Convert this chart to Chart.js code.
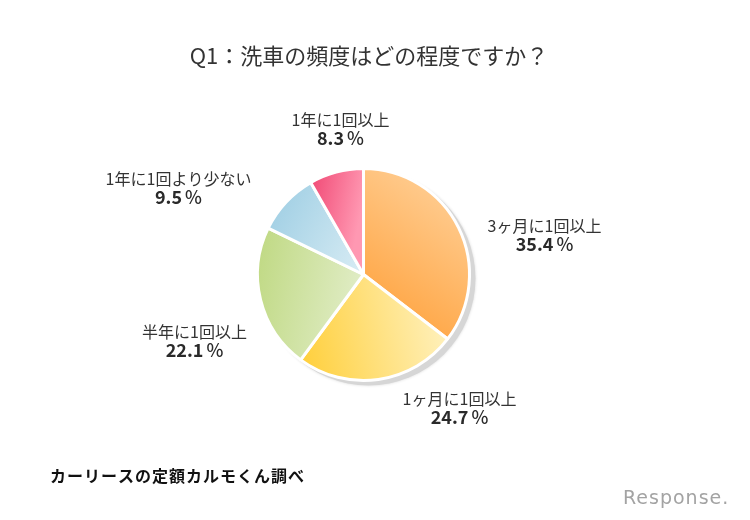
<!DOCTYPE html>
<html><head><meta charset="utf-8">
<script src="https://cdn.jsdelivr.net/npm/chart.js@4.4.1/dist/chart.umd.min.js"></script>
<style>html,body{margin:0;padding:0;background:#fff}#wrap{position:relative;width:750px;height:520px}</style>
</head><body><div id="wrap"><canvas id="c" width="750" height="520"></canvas></div>
<script>
// ---- data ----
const TITLE = "Q1：洗車の頻度はどの程度ですか？";
const categories = ["3ヶ月に1回以上", "1ヶ月に1回以上", "半年に1回以上", "1年に1回より少ない", "1年に1回以上"];
const values = [35.4, 24.7, 22.1, 9.5, 8.3];
const valueLabels = ["35.4", "24.7", "22.1", "9.5", "8.3"];
const UNIT = "%";
const SOURCE = "カーリースの定額カルモくん調べ";
const BRAND = "Response.";

// ---- styles ----
const FONT = '"Noto Sans CJK JP", "Noto Sans", sans-serif';
const gradDirs = [
  [-0.2, 0.6, 0.8, -0.8],
  [-0.6, 0.6, 0.8, 0.3],
  [-1.0, 0.0, 0.05, 0.2],
  [-0.9, -0.45, -0.1, 0.0],
  [-0.5, -0.8, 0.0, -0.7]
];
const gradStops = [
  [[0, "#ff992b"], [1, "#ffcd92"]],
  [[0, "#ffd03e"], [1, "#fff2c2"]],
  [[0, "#c1da86"], [1, "#e3eecb"]],
  [[0, "#a4d1e5"], [1, "#d4eaf3"]],
  [[0, "#f14c77"], [1, "#ff98b2"]]
];
// label anchor offsets from pie centre (layout only)
const labelOffsets = [[181, -40], [96, 133], [-169, 66], [-185, -87], [-23, -146]];

function sliceFill(ctx) {
  const i = ctx.dataIndex;
  const chart = ctx.chart, a = chart.chartArea;
  if (!a || i === undefined) return gradStops[i || 0][0][1];
  const cx = (a.left + a.right) / 2, cy = (a.top + a.bottom) / 2, r = Math.min(a.width, a.height) / 2;
  const d = gradDirs[i];
  const g = chart.ctx.createLinearGradient(cx + d[0] * r, cy + d[1] * r, cx + d[2] * r, cy + d[3] * r);
  gradStops[i].forEach(s => g.addColorStop(s[0], s[1]));
  return g;
}

const decor = {
  id: 'decor',
  beforeDatasetsDraw(chart) {
    const arc = chart.getDatasetMeta(0).data[0];
    if (!arc) return;
    const c = chart.ctx;
    c.save();
    c.fillStyle = '#d6d6d6';
    c.shadowColor = 'rgba(0,0,0,0.15)';
    c.shadowBlur = 3;
    c.beginPath();
    c.arc(arc.x + 5, arc.y + 4, arc.outerRadius + 1, 0, Math.PI * 2);
    c.fill();
    c.restore();
  },
  afterDraw(chart) {
    const c = chart.ctx;
    const meta = chart.getDatasetMeta(0);
    const arc0 = meta.data[0];
    c.save();
    c.textAlign = 'center';
    c.textBaseline = 'middle';
    c.fillStyle = '#333';
    c.font = '22px ' + FONT;
    c.fillText(TITLE, 369, 56);
    categories.forEach((name, i) => {
      const x = arc0.x + labelOffsets[i][0], y = arc0.y + labelOffsets[i][1];
      c.textAlign = 'center';
      c.fillStyle = '#333';
      c.font = '16px ' + FONT;
      c.fillText(name, x, y - 9);
      // value: bold number + lighter unit
      c.fillStyle = '#2a2a2a';
      c.font = 'bold 18px ' + FONT;
      const wn = c.measureText(valueLabels[i]).width;
      c.font = '500 18px ' + FONT;
      const wu = c.measureText(UNIT).width;
      const gap = 3;
      const x0 = x - (wn + gap + wu) / 2;
      c.textAlign = 'left';
      c.font = 'bold 18px ' + FONT;
      c.fillText(valueLabels[i], x0, y + 10);
      c.font = '500 18px ' + FONT;
      c.fillText(UNIT, x0 + wn + gap, y + 10);
    });
    c.textAlign = 'left';
    c.fillStyle = '#111';
    c.font = 'bold 16px ' + FONT;
    c.letterSpacing = '1px';
    c.fillText(SOURCE, 50, 476);
    c.fillStyle = '#a3a3a3';
    c.font = '19px "DejaVu Sans", sans-serif';
    c.letterSpacing = '1px';
    c.fillText(BRAND, 623, 499);
    c.letterSpacing = '0px';
    c.restore();
  }
};

new Chart(document.getElementById('c'), {
  type: 'pie',
  data: {
    labels: categories,
    datasets: [{
      data: values,
      backgroundColor: sliceFill,
      borderColor: '#ffffff',
      borderWidth: 3
    }]
  },
  options: {
    responsive: false,
    animation: false,
    devicePixelRatio: 1,
    events: [],
    layout: { padding: { left: 256, right: 279, top: 167, bottom: 138 } },
    plugins: { legend: { display: false }, tooltip: { enabled: false }, title: { display: false } }
  },
  plugins: [decor]
});
</script>
</body></html>
